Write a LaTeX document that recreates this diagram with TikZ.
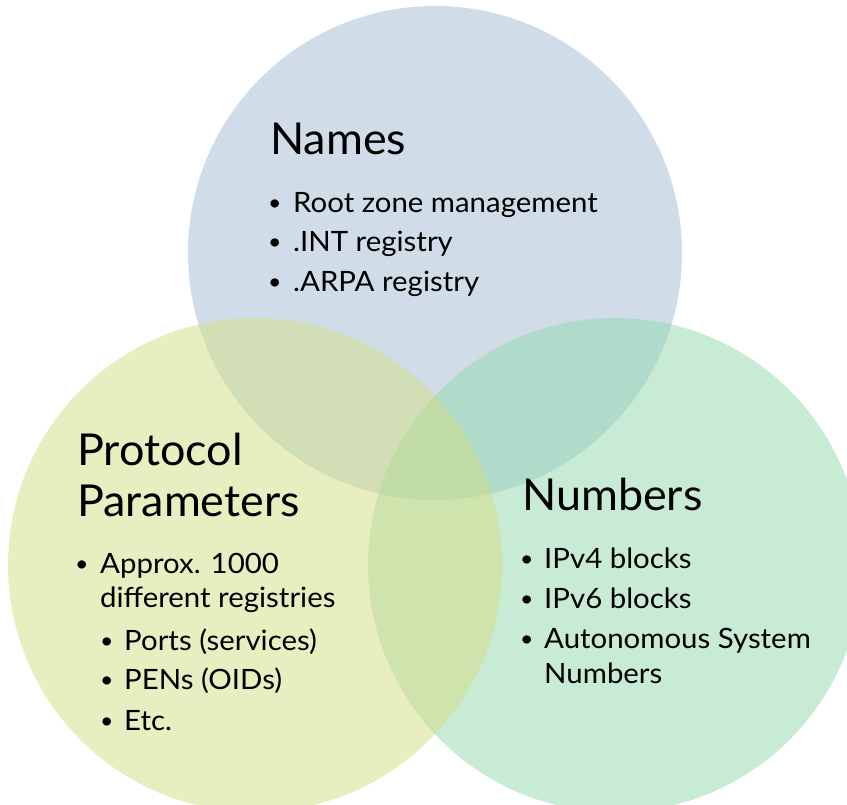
\documentclass[tikz,border=0pt]{standalone}
\usepackage{fontspec}
\setmainfont{Lato}
\newfontfamily\headfont{Lato}[FakeStretch=1.02]
\newfontfamily\bodyfont{Lato}[FakeStretch=1.05]
\definecolor{namesc}{RGB}{163,189,211}
\definecolor{protoc}{RGB}{213,223,133}
\definecolor{numc}{RGB}{145,217,173}
\tikzset{
  venn/.style={fill opacity=0.5, draw=none},
  head/.style={anchor=base west, inner sep=0pt, font=\headfont\fontsize{44}{50}\selectfont},
  item/.style={anchor=base west, inner sep=0pt, font=\bodyfont\fontsize{28}{32}\selectfont},
  bul/.style={anchor=base west, inner sep=0pt, font=\bodyfont\fontsize{22}{26}\selectfont},
}
\begin{document}
\begin{tikzpicture}[x=1pt,y=-1pt]
\useasboundingbox (0,0) rectangle (847,805);
\clip (0,0) rectangle (847,805);
\fill[white] (0,0) rectangle (847,805);
\fill[venn, namesc] (435,253) circle[radius=247];
\fill[venn, numc] (615,565) circle[radius=247];
\fill[venn, protoc] (255,565) circle[radius=247];
% Names
\node[head] (nh) at (270,155) {Names};
\node[bul] (nb1) at (268,211) {•};
\node[item] (n1) at (293,213) {Root zone management};
\node[bul] (nb2) at (268,250) {•};
\node[item] (n2) at (293,252) {.INT registry};
\node[bul] (nb3) at (268,290) {•};
\node[item] (n3) at (293,292) {.ARPA registry};
% Protocol Parameters
\node[head] (ph1) at (77,465) {Protocol};
\node[head] (ph2) at (77,516) {Parameters};
\node[bul] (pb1) at (75,571) {•};
\node[item] (p1) at (100,573) {Approx. 1000};
\node[item] (p1b) at (100,607) {different registries};
\node[bul] (pb2) at (100,648) {•};
\node[item] (p2) at (124,650) {Ports (services)};
\node[bul] (pb3) at (100,687) {•};
\node[item] (p3) at (124,689) {PENs (OIDs)};
\node[bul] (pb4) at (100,728) {•};
\node[item] (p4) at (124,730) {Etc.};
% Numbers
\node[head] (mh) at (522,510) {Numbers};
\node[bul] (mb1) at (520,566) {•};
\node[item] (m1) at (544,568) {IPv4 blocks};
\node[bul] (mb2) at (520,606) {•};
\node[item] (m2) at (544,608) {IPv6 blocks};
\node[bul] (mb3) at (520,646) {•};
\node[item] (m3) at (544,648) {Autonomous System};
\node[item] (m3b) at (544,683) {Numbers};
\end{tikzpicture}
\end{document}
